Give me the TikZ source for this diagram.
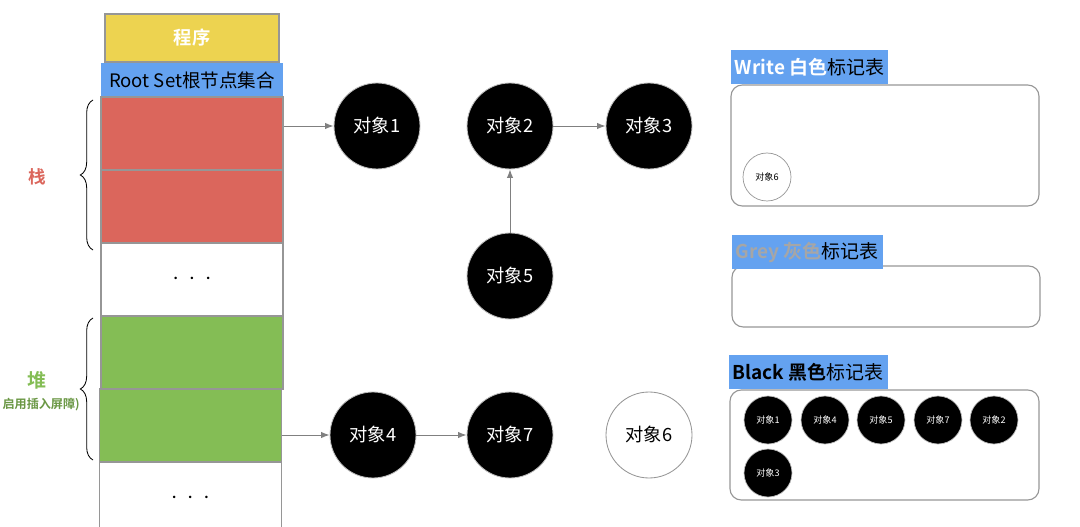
\documentclass[tikz,border=0pt]{standalone}
\usepackage{fontspec}
\setmainfont{Noto Sans CJK SC}[BoldFont={Noto Sans CJK SC Bold}]
\usetikzlibrary{arrows.meta,decorations.pathreplacing}

\definecolor{amarillo}{RGB}{237,211,80}
\definecolor{azul}{RGB}{100,162,240}
\definecolor{rojo}{RGB}{219,102,92}
\definecolor{verde}{RGB}{132,189,85}
\definecolor{borde}{RGB}{150,150,150}

\newcommand{\puntos}{{\fontsize{17}{17}\selectfont$\cdot\,\cdot\,\cdot$}}

\begin{document}
\begin{tikzpicture}[
        font=\fontsize{12}{14}\selectfont,
        slot/.style={
            rectangle, draw=borde, line width=0.8pt,
            minimum width=4.55cm, minimum height=1.825cm,
            inner sep=0pt
        },
        obj/.style={
            circle, fill=black, draw=gray!50, line width=0.6pt,
            minimum size=2.15cm, text=white,
            font=\fontsize{13}{15}\selectfont
        },
        mini/.style={
            circle, fill=black, draw=gray!50, line width=0.5pt,
            minimum size=1.2cm, inner sep=0pt, text=white,
            font=\fontsize{6.5}{8}\selectfont
        },
        tabla/.style={
            rectangle, rounded corners=8pt, draw=borde, line width=0.8pt
        },
        titulo/.style={
            fill=azul, anchor=south west, inner sep=3pt,
            minimum height=0.85cm, font=\fontsize{13.5}{15}\selectfont
        },
        arrow/.style={->, >={Latex[length=6pt,width=4.5pt]}, draw=gray, line width=0.7pt},
        llave/.style={decorate, decoration={brace, amplitude=9pt}, line width=0.6pt}
    ]
        \useasboundingbox (0,0) rectangle (27,-13.175);

        % Programa y raiz
        \node[slot, fill=amarillo, minimum width=4.35cm, minimum height=1.2cm,
              text=white, font=\bfseries\fontsize{13}{15}\selectfont] (programa) at (4.8,-0.95) {程序};
        \node[fill=azul, minimum width=4.55cm, minimum height=0.85cm, inner sep=0pt,
              font=\fontsize{13.2}{15}\selectfont] (raiz) at (4.8,-2.0) {Root Set根节点集合};

        % Pila y monton
        \node[slot, fill=rojo] (pila1) at (4.8,-3.3375) {};
        \node[slot, fill=rojo] (pila2) at (4.8,-5.1625) {};
        \node[slot, fill=white] (vacio1) at (4.8,-6.9875) {\puntos};
        \node[slot, fill=verde] (monton1) at (4.8,-8.8125) {};
        \node[slot, fill=verde] (monton2) at (4.76,-10.6375) {};
        \node[slot, fill=white] (vacio2) at (4.76,-12.4625) {\puntos};

        \coordinate (pilaArriba) at (2.325,-2.5);
        \coordinate (pilaAbajo) at (2.325,-6.25);
        \coordinate (montonArriba) at (2.325,-7.95);
        \coordinate (montonAbajo) at (2.325,-11.5);
        \draw[llave] (pilaAbajo) -- (pilaArriba);
        \draw[llave] (montonAbajo) -- (montonArriba);

        \node[text=rojo, font=\bfseries\fontsize{12.5}{14}\selectfont] (pilaTxt) at (0.925,-4.425) {栈};
        \node[text=verde, font=\bfseries\fontsize{13.5}{15}\selectfont] (montonTxt) at (0.925,-9.5) {堆};
        \node[text=verde!80!black, anchor=east, inner sep=0pt,
              font=\bfseries\fontsize{8.6}{10}\selectfont] (barrera) at (2.0,-10.125) {启用插入屏障)};

        % Objetos
        \node[obj] (obj1) at (9.425,-3.15) {对象1};
        \node[obj] (obj2) at (12.75,-3.15) {对象2};
        \node[obj] (obj3) at (16.225,-3.15) {对象3};
        \node[obj] (obj5) at (12.75,-6.9) {对象5};
        \node[obj] (obj4) at (9.325,-10.875) {对象4};
        \node[obj] (obj7) at (12.75,-10.875) {对象7};
        \node[obj, fill=white, text=black, draw=borde] (obj6) at (16.225,-10.875) {对象6};

        % Referencias
        \draw[arrow] (pila1.east |- obj1.west) -- (obj1.west);
        \draw[arrow] (obj2) -- (obj3);
        \draw[arrow] (obj5) -- (obj2);
        \draw[arrow] (monton2.east |- obj4.west) -- (obj4.west);
        \draw[arrow] (obj4) -- (obj7);

        % Tablas de marcado
        \node[tabla, minimum width=7.7cm, minimum height=3.025cm] (blanca) at (22.125,-3.6375) {};
        \node[tabla, minimum width=7.7cm, minimum height=1.525cm] (gris) at (22.15,-7.4125) {};
        \node[tabla, minimum width=7.725cm, minimum height=2.75cm] (negra) at (22.1125,-11.125) {};

        \node[titulo] (blancaTit) at (blanca.north west) {{\bfseries\color{white}Write 白色}标记表};
        \node[titulo] (grisTit) at ([yshift=-0.1cm]gris.north west) {{\bfseries\color{gray!70}Grey 灰色}标记表};
        \node[titulo] (negraTit) at ([xshift=-0.03cm]negra.north west) {{\bfseries Black 黑色}标记表};

        \node[mini, fill=white, text=black, draw=borde] (blanca6) at (19.175,-4.425) {对象6};

        \foreach \n/\x in {1/19.2, 4/20.625, 5/22.025, 7/23.45, 2/24.85}
            \node[mini] (negra\n) at (\x,-10.5) {对象\n};
        \node[mini] (negra3) at (19.2,-11.825) {对象3};

    \end{tikzpicture}
\end{document}
